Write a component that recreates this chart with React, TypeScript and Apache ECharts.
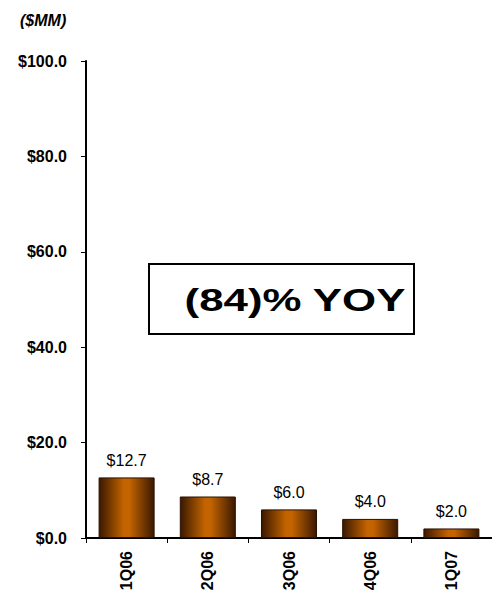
import React, { useEffect, useRef } from "react";
import * as echarts from "echarts";

const categories = ["1Q06", "2Q06", "3Q06", "4Q06", "1Q07"];
const values = [12.7, 8.7, 6.0, 4.0, 2.0];
const yTicks = [0, 20, 40, 60, 80, 100];

const FONT = "Arial, 'Liberation Sans', sans-serif";

export default function App() {
  const ref = useRef<HTMLDivElement>(null);
  useEffect(() => {
    const chart = echarts.init(ref.current!, null, { renderer: "svg" });
    const barColor = new echarts.graphic.LinearGradient(0, 0, 1, 0, [
      { offset: 0, color: "#3a1800" },
      { offset: 0.45, color: "#c46400" },
      { offset: 0.55, color: "#c46400" },
      { offset: 1, color: "#3a1800" },
    ]);
    chart.setOption({
      animation: false,
      backgroundColor: "#ffffff",
      grid: { left: 86, right: 0, top: 61, bottom: 59, containLabel: false },
      xAxis: {
        type: "category",
        data: categories,
        axisLine: { lineStyle: { color: "#000", width: 2 } },
        axisTick: { show: true, length: 5, lineStyle: { color: "#000" } },
        axisLabel: {
          rotate: 90,
          fontFamily: FONT,
          fontWeight: "bold",
          fontSize: 16,
          color: "#000",
          margin: 13,
        },
      },
      yAxis: {
        type: "value",
        min: yTicks[0],
        max: yTicks[yTicks.length - 1],
        interval: 20,
        axisLine: { show: true, lineStyle: { color: "#000", width: 2 } },
        axisTick: { show: true, length: 5, lineStyle: { color: "#000" } },
        splitLine: { show: false },
        axisLabel: {
          formatter: (v: number) => "$" + v.toFixed(1),
          fontFamily: FONT,
          fontWeight: "bold",
          fontSize: 16,
          color: "#000",
          margin: 19,
        },
      },
      series: [
        {
          type: "bar",
          data: values,
          barWidth: "69%",
          itemStyle: { color: barColor, borderColor: "#2a1000", borderWidth: 1 },
          label: {
            show: true,
            position: "top",
            distance: 9,
            formatter: (p: any) => "$" + Number(p.value).toFixed(1),
            fontFamily: FONT,
            fontSize: 16,
            color: "#000",
          },
        },
      ],
      graphic: [
        {
          type: "text",
          left: 20,
          top: 12,
          style: {
            text: "($MM)",
            font: "italic bold 16px Arial, 'Liberation Sans', sans-serif",
            fill: "#000",
          },
        },
        {
          type: "group",
          left: 148,
          top: 263,
          children: [
            {
              type: "rect",
              shape: { x: 0, y: 0, width: 265, height: 70 },
              style: { fill: "#fff", stroke: "#000", lineWidth: 2 },
            },
            {
              type: "text",
              x: 146,
              y: 36,
              scaleX: 1.37,
              style: {
                text: "(84)% YOY",
                font: "bold 32px Arial, 'Liberation Sans', sans-serif",
                fill: "#000",
                align: "center",
                verticalAlign: "middle",
              },
            },
          ],
        },
      ],
    });
    return () => chart.dispose();
  }, []);
  return <div ref={ref} style={{ width: 492, height: 597, position: "fixed", left: 0, top: 0 }} />;
}
